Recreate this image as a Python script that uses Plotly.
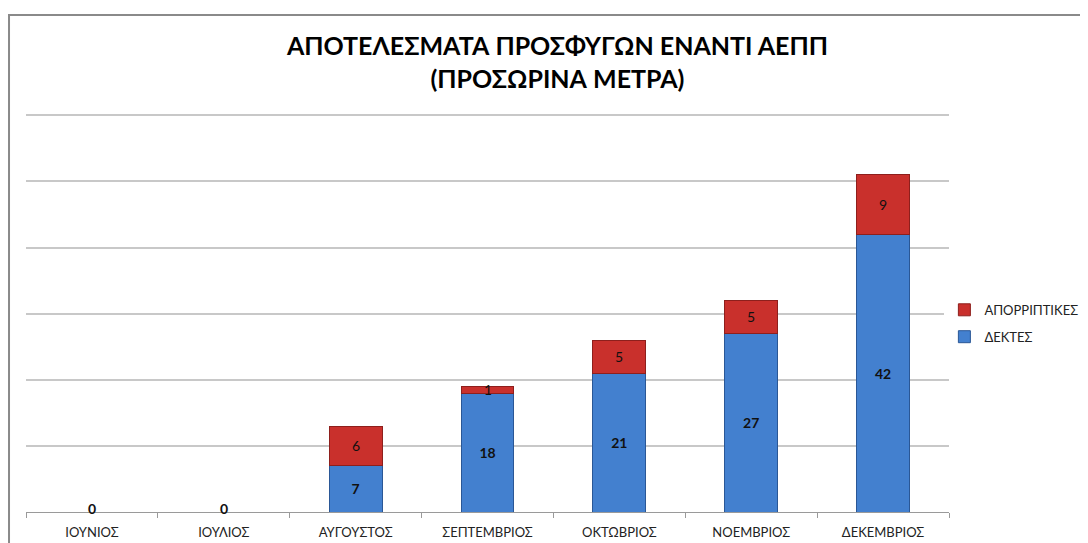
import plotly.graph_objects as go

months = ["ΙΟΥΝΙΟΣ", "ΙΟΥΛΙΟΣ", "ΑΥΓΟΥΣΤΟΣ", "ΣΕΠΤΕΜΒΡΙΟΣ", "ΟΚΤΩΒΡΙΟΣ", "ΝΟΕΜΒΡΙΟΣ", "ΔΕΚΕΜΒΡΙΟΣ"]
accepted = [0, 0, 7, 18, 21, 27, 42]
rejected = [0, 0, 6, 1, 5, 5, 9]

FONT = "Lato, 'Open Sans', sans-serif"

fig = go.Figure()
fig.add_trace(go.Bar(
    x=months, y=accepted, name="ΔΕΚΤΕΣ", legendgroup="a", legendrank=2,
    marker=dict(color="#4380cf", line=dict(color="#2a5796", width=1)),
    text=[str(v) if v > 0 else "" for v in accepted],
    textposition="inside", insidetextanchor="middle", constraintext="none",
    textfont=dict(family=FONT, size=14, color="#111", weight="bold"),
    hoverinfo="skip",
))
fig.add_trace(go.Bar(
    x=months, y=rejected, name="ΑΠΟΡΡΙΠΤΙΚΕΣ", legendgroup="r", legendrank=1,
    marker=dict(color="#c9302c", line=dict(color="#8e1f1c", width=1)),
    hoverinfo="skip",
))

# labels
for m, a, r in zip(months, accepted, rejected):
    if a == 0:
        fig.add_annotation(x=m, y=a, text=str(a), showarrow=False, yanchor="bottom",
                           yshift=-7, font=dict(family=FONT, size=14, color="#111", weight="bold"))
    if r > 0:
        fig.add_annotation(x=m, y=a + r / 2, text=str(r), showarrow=False, yanchor="middle",
                           font=dict(family=FONT, size=14, color="#111"))

# outer chart border
fig.add_shape(type="rect", xref="paper", yref="paper", x0=-0.0184, x1=1.3, y0=-0.2, y1=1.249,
              line=dict(color="#8a8a8a", width=2), fillcolor="rgba(0,0,0,0)", layer="below")

fig.update_layout(
    width=1088, height=543,
    margin=dict(l=18, r=147, t=106, b=39),
    paper_bgcolor="white", plot_bgcolor="white",
    barmode="stack", bargap=0.6,
    font=dict(family=FONT, size=12, color="#222"),
    title=dict(text="ΑΠΟΤΕΛΕΣΜΑΤΑ ΠΡΟΣΦΥΓΩΝ ΕΝΑΝΤΙ ΑΕΠΠ<br>(ΠΡΟΣΩΡΙΝΑ ΜΕΤΡΑ)",
               x=0.505, xanchor="center", y=0.913, yanchor="top",
               font=dict(family=FONT, size=25, color="#000", weight="bold")),
    showlegend=True,
    legend=dict(x=0.995, xanchor="left", y=0.474, yanchor="middle",
                traceorder="grouped",
                font=dict(family=FONT, size=13, color="#222"), itemwidth=30,
                tracegroupgap=7),
    xaxis=dict(showline=True, linecolor="#9a9a9a", linewidth=1, ticks="outside", tickson="boundaries",
               ticklen=5, tickcolor="#9a9a9a", showgrid=False, ticklabelstandoff=8,
               tickfont=dict(family=FONT, size=13, color="#222")),
    yaxis=dict(range=[0, 60.2], dtick=10, showticklabels=False, showgrid=True, gridcolor="#c8c8c8",
               gridwidth=1.5, zeroline=False, showline=False),
)

fig.write_html("out.html")
